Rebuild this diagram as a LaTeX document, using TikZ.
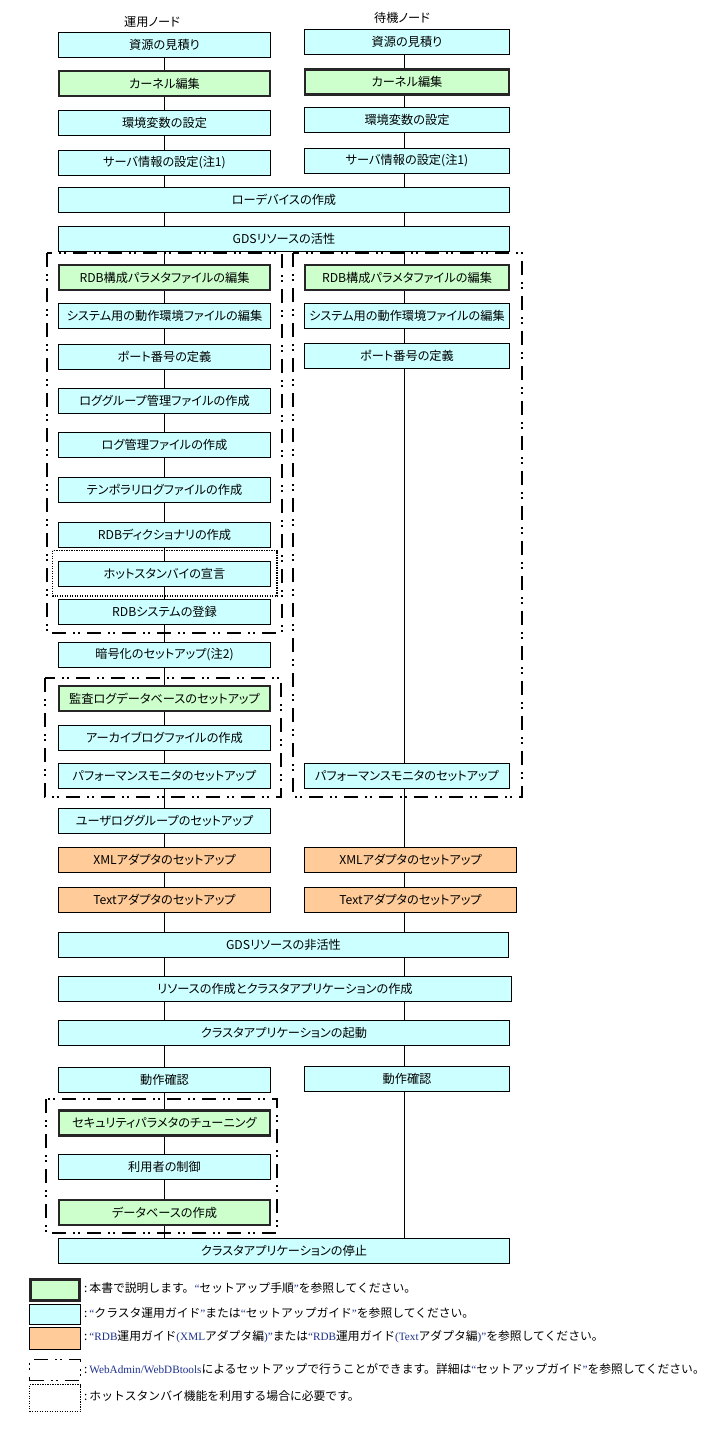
\documentclass[tikz,border=0pt]{standalone}
\usepackage{fontspec}
\setmainfont{Noto Sans CJK JP}[RawFeature=+palt]
\newfontfamily\legfont{Noto Sans CJK JP}
\newfontfamily\legserif{Liberation Serif}
\usetikzlibrary{backgrounds}
\definecolor{cyanf}{RGB}{204,255,255}
\definecolor{greenf}{RGB}{204,255,204}
\definecolor{orangef}{RGB}{255,204,153}
\definecolor{legblue}{RGB}{30,50,140}
\newcommand{\lb}[1]{{\legserif\fontsize{11.2}{11.2}\selectfont\color{legblue}#1}}
\begin{document}
\begin{tikzpicture}[x=1pt,y=-1pt,
  box/.style={draw, line width=1pt, fill=cyanf, minimum height=25pt, inner sep=0pt,
              font=\fontsize{12.2}{12.2}\selectfont, anchor=center},
  gbox/.style={box, fill=greenf, line width=2.2pt, draw=black!85},
  obox/.style={box, fill=orangef},
  lw/.style={minimum width=212pt},
  glw/.style={minimum width=211pt},
  rw/.style={minimum width=205pt},
  grw/.style={minimum width=204pt},
  orw/.style={minimum width=212pt},
  ww/.style={minimum width=451pt},
  head/.style={font=\fontsize{12.2}{12.2}\selectfont, inner sep=0pt},
  ddframe/.style={line width=1.8pt, dash pattern=on 14pt off 7pt on 2pt off 3pt on 2pt off 7pt},
  dotframe/.style={line width=1.5pt, dash pattern=on 1.2pt off 1.3pt},
  flow/.style={line width=1pt},
  legtext/.style={anchor=west, inner sep=0pt, font=\legfont\fontsize{11.8}{11.8}\selectfont},
]
\useasboundingbox (0,0) rectangle (727,1438);

% headers
\node[head] (h1) at (152,22) {運用ノード};
\node[head] (h2) at (402,18) {待機ノード};

% left column
\node[box,lw]   (l1)  at (164.5,44.5)  {資源の見積り};
\node[gbox,glw] (l2)  at (164.5,83.5)  {カーネル編集};
\node[box,lw]   (l3)  at (164.5,123)   {環境変数の設定};
\node[box,lw]   (l4)  at (164.5,162.5) {サーバ情報の設定(注1)};
\node[box,ww]   (w1)  at (284,199.5)   {ローデバイスの作成};
\node[box,ww]   (w2)  at (284,238.5)   {GDSリソースの活性};
\node[gbox,glw] (l5)  at (164.5,277.5) {RDB構成パラメタファイルの編集};
\node[box,lw]   (l6)  at (164.5,316)   {システム用の動作環境ファイルの編集};
\node[box,lw]   (l7)  at (164.5,357)   {ポート番号の定義};
\node[box,lw]   (l8)  at (164.5,400.5) {ロググループ管理ファイルの作成};
\node[box,lw]   (l9)  at (164.5,445)   {ログ管理ファイルの作成};
\node[box,lw]   (l10) at (164.5,489.5) {テンポラリログファイルの作成};
\node[box,lw]   (l11) at (164.5,534.5) {RDBディクショナリの作成};
\node[box,lw]   (l12) at (164.5,573.5) {ホットスタンバイの宣言};
\node[box,lw]   (l13) at (164.5,612)   {RDBシステムの登録};
\node[box,lw]   (l14) at (164.5,654.5) {暗号化のセットアップ(注2)};
\node[gbox,glw] (l15) at (164.5,698.5) {監査ログデータベースのセットアップ};
\node[box,lw]   (l16) at (164.5,737.5) {アーカイブログファイルの作成};
\node[box,lw]   (l17) at (164.5,776)   {パフォーマンスモニタのセットアップ};
\node[box,lw]   (l18) at (164.5,821)   {ユーザロググループのセットアップ};
\node[obox,lw]  (l19) at (164.5,860)   {XMLアダプタのセットアップ};
\node[obox,lw]  (l20) at (164.5,899.5) {Textアダプタのセットアップ};
\node[box,minimum width=450pt] (w3) at (283.5,944.5) {GDSリソースの非活性};
\node[box,minimum width=453pt] (w4) at (285,989) {リソースの作成とクラスタアプリケーションの作成};
\node[box,ww]   (w5)  at (284,1033)    {クラスタアプリケーションの起動};
\node[box,lw]   (l21) at (164.5,1079.5){動作確認};
\node[gbox,glw] (l22) at (164.5,1123)  {セキュリティパラメタのチューニング};
\node[box,lw]   (l23) at (164.5,1167)  {利用者の制御};
\node[gbox,glw] (l24) at (164.5,1212.5){データベースの作成};
\node[box,ww]   (w6)  at (284,1251)    {クラスタアプリケーションの停止};

% right column
\node[box,rw]   (r1)  at (407,42)    {資源の見積り};
\node[gbox,grw] (r2)  at (407,82)    {カーネル編集};
\node[box,rw]   (r3)  at (407,120)   {環境変数の設定};
\node[box,rw]   (r4)  at (407,160.5) {サーバ情報の設定(注1)};
\node[gbox,grw] (r5)  at (407,277.5) {RDB構成パラメタファイルの編集};
\node[box,rw]   (r6)  at (407,316)   {システム用の動作環境ファイルの編集};
\node[box,rw]   (r7)  at (407,355.5) {ポート番号の定義};
\node[box,rw]   (r8)  at (407,776)   {パフォーマンスモニタのセットアップ};
\node[obox,orw] (r9)  at (410.5,860) {XMLアダプタのセットアップ};
\node[obox,orw] (r10) at (410.5,899.5) {Textアダプタのセットアップ};
\node[box,rw]   (r11) at (407,1078.5) {動作確認};

\coordinate (rx) at (404,0);

\begin{scope}[on background layer]
  \fill[white] (0,0) rectangle (727,1438);
  \draw[flow] (l1.south) -- (l1.south |- w6.north);
  \draw[flow] (rx |- r1.south) -- (rx |- w6.north);
\end{scope}

% group frames
\draw[ddframe] (47,253) rectangle (282,633);
\draw[ddframe] (293,253) rectangle (522,797);
\draw[ddframe] (45,678) rectangle (281,797);
\draw[ddframe] (46,1099) rectangle (277,1233);
\draw[dotframe] (52.5,550.5) rectangle (277,596);

% legend
\node[draw=black!85, line width=2.2pt, fill=greenf, minimum width=49pt, minimum height=21pt, inner sep=0pt] (k1) at (55,1290) {};
\node[draw, line width=1pt, fill=cyanf, minimum width=51pt, minimum height=20pt, inner sep=0pt] (k2) at (55,1314.5) {};
\node[draw, line width=1pt, fill=orangef, minimum width=51pt, minimum height=22pt, inner sep=0pt] (k3) at (55,1338.5) {};
\node[ddframe, draw, minimum width=51pt, minimum height=21pt, inner sep=0pt] (k4) at (55,1370) {};
\node[dotframe, draw, minimum width=51pt, minimum height=27pt, inner sep=0pt] (k5) at (55,1398) {};

\node[legtext] (t1) at (84,1288) {:\hspace{2pt}本書で説明します。\lb{“}セットアップ手順\lb{”}を参照してください。};
\node[legtext] (t2) at (84,1313) {:\hspace{2pt}\lb{“}クラスタ運用ガイド\lb{”}または\lb{“}セットアップガイド\lb{”}を参照してください。};
\node[legtext] (t3) at (84,1337) {:\hspace{2pt}\lb{“RDB}運用ガイド\lb{(XML}アダプタ編\lb{)”}または\lb{“RDB}運用ガイド\lb{(Text}アダプタ編\lb{)”}を参照してください。};
\node[legtext] (t4) at (84,1369) {:\hspace{2pt}\lb{WebAdmin/WebDBtools}によるセットアップで行うことができます。詳細は\lb{“}セットアップガイド\lb{”}を参照してください。};
\node[legtext] (t5) at (84,1396) {:\hspace{2pt}ホットスタンバイ機能を利用する場合に必要です。};
\end{tikzpicture}
\end{document}
